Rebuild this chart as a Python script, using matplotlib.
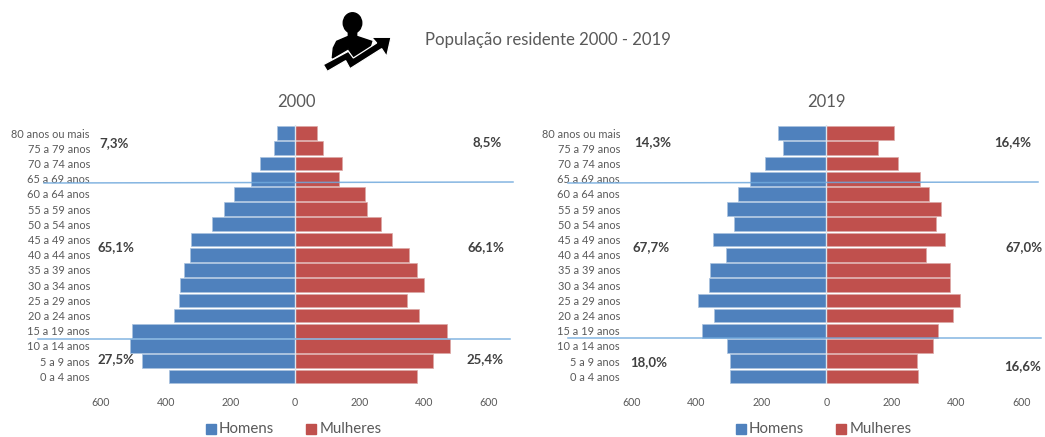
import matplotlib as mpl
mpl.use('agg')
import matplotlib.pyplot as plt
from matplotlib.patches import Polygon, Ellipse

plt.rcParams['font.family'] = ['Lato', 'DejaVu Sans']

W, H = 1045, 437

ages = ['0 a 4 anos', '5 a 9 anos', '10 a 14 anos', '15 a 19 anos', '20 a 24 anos',
        '25 a 29 anos', '30 a 34 anos', '35 a 39 anos', '40 a 44 anos', '45 a 49 anos',
        '50 a 54 anos', '55 a 59 anos', '60 a 64 anos', '65 a 69 anos', '70 a 74 anos',
        '75 a 79 anos', '80 anos ou mais']

men_2000 = [389, 472, 511, 503, 375, 358, 355, 343, 326, 322, 255, 218, 187, 135, 109, 64, 55]
women_2000 = [378, 429, 479, 470, 386, 348, 399, 377, 354, 302, 268, 225, 216, 136, 146, 86, 68]
men_2019 = [295, 295, 304, 381, 345, 394, 362, 359, 307, 347, 284, 305, 273, 236, 190, 133, 148]
women_2019 = [283, 278, 327, 344, 390, 411, 381, 381, 306, 364, 337, 352, 317, 289, 221, 159, 209]

pct_2000 = ['7,3%', '65,1%', '27,5%', '8,5%', '66,1%', '25,4%']
pct_2019 = ['14,3%', '67,7%', '18,0%', '16,4%', '67,0%', '16,6%']

xticks = [-600, -400, -200, 0, 200, 400, 600]
blue = '#4f81bd'
red = '#c0504d'
grey = '#595959'
line_col = '#6fa8dc'


def pyramid(left, right, top, bottom, men, women):
    ax = fig.add_axes([left / W, 1 - bottom / H, (right - left) / W, (bottom - top) / H])
    ypos = list(range(len(ages)))
    ax.barh(ypos, [-m for m in men], height=0.9, color=blue, edgecolor='#a9c2df', linewidth=0.5, label='Homens')
    ax.barh(ypos, women, height=0.9, color=red, edgecolor='#dca8a6', linewidth=0.5, label='Mulheres')
    ax.axvline(0, color='#dfe6ee', linewidth=1)
    ax.set_xlim(-600, 600)
    ax.set_ylim(-0.5, len(ages) - 0.5)
    ax.set_yticks(ypos)
    ax.set_yticklabels(ages, fontsize=7.9)
    ax.set_xticks(xticks)
    ax.set_xticklabels([str(abs(t)) for t in xticks], fontsize=7.6)
    ax.tick_params(length=0, colors=grey)
    ax.tick_params(axis='x', pad=9.7)
    ax.tick_params(axis='y', pad=8)
    for s in ax.spines.values():
        s.set_visible(False)
    ax.patch.set_alpha(0)
    return ax


fig = plt.figure(figsize=(W / 100, H / 100), dpi=100)

ax1 = pyramid(101.0, 488.6, 125.5, 384, men_2000, women_2000)
ax2 = pyramid(631.2, 1021.5, 125.5, 384, men_2019, women_2019)

# overlay in pixel coords for the hand placed stuff
ov = fig.add_axes([0, 0, 1, 1])
ov.set_xlim(0, W)
ov.set_ylim(H, 0)
ov.axis('off')
ov.patch.set_alpha(0)

ov.text(548, 40, 'População residente 2000 - 2019', fontsize=12.1, color=grey, ha='center', va='center')
ov.text(296, 102, '2000', fontsize=12, color=grey, ha='center', va='center')
ov.text(826, 102, '2019', fontsize=12, color=grey, ha='center', va='center')

# separators between the age groups
ov.plot([44, 513], [183, 182], color=line_col, linewidth=1.1, alpha=0.85)
ov.plot([38, 510], [339, 339], color=line_col, linewidth=1.1, alpha=0.85)
ov.plot([568, 1038], [183, 182], color=line_col, linewidth=1.1, alpha=0.85)
ov.plot([568, 1041], [337.5, 337.5], color=line_col, linewidth=1.1, alpha=0.85)

pos_2000 = [(114, 143), (116, 247), (116, 359), (487, 142), (486, 247), (485, 359)]
pos_2019 = [(653, 142), (651, 247), (649, 362), (1013, 142), (1024, 247), (1023, 366)]
for txt, (x, y) in zip(pct_2000 + pct_2019, pos_2000 + pos_2019):
    ov.text(x, y, txt, fontsize=9.5, color='#404040', ha='center', va='center', fontweight='bold')

# legends
for off in [0, 530]:
    ov.add_patch(Polygon([(206 + off, 424), (216 + off, 424), (216 + off, 434), (206 + off, 434)], color=blue))
    ov.text(219 + off, 429, 'Homens', fontsize=10.8, color=grey, va='center')
    ov.add_patch(Polygon([(306 + off, 424), (316 + off, 424), (316 + off, 434), (306 + off, 434)], color=red))
    ov.text(320 + off, 429, 'Mulheres', fontsize=10.8, color=grey, va='center')


# icon outline was traced on a 3x crop starting at (315, 8)
def icon_pts(pts):
    return [(315 + x / 3, 8 + y / 3) for x, y in pts]


ov.add_patch(Ellipse((352.5, 23), 18.5, 20.5, color='black'))
ov.add_patch(Polygon(icon_pts([(100, 65), (125, 65), (125, 85), (170, 100), (165, 118), (115, 148),
                               (100, 122), (52, 150), (55, 120), (65, 100), (100, 85)]), color='black'))
ov.add_patch(Polygon(icon_pts([(25, 170), (100, 130), (115, 150), (185, 105), (170, 88), (228, 88),
                               (215, 145), (200, 122), (105, 182), (92, 158), (37, 190)]),
                     facecolor='black', edgecolor='white', lw=0.9))

fig.savefig('out.png', dpi=100)
